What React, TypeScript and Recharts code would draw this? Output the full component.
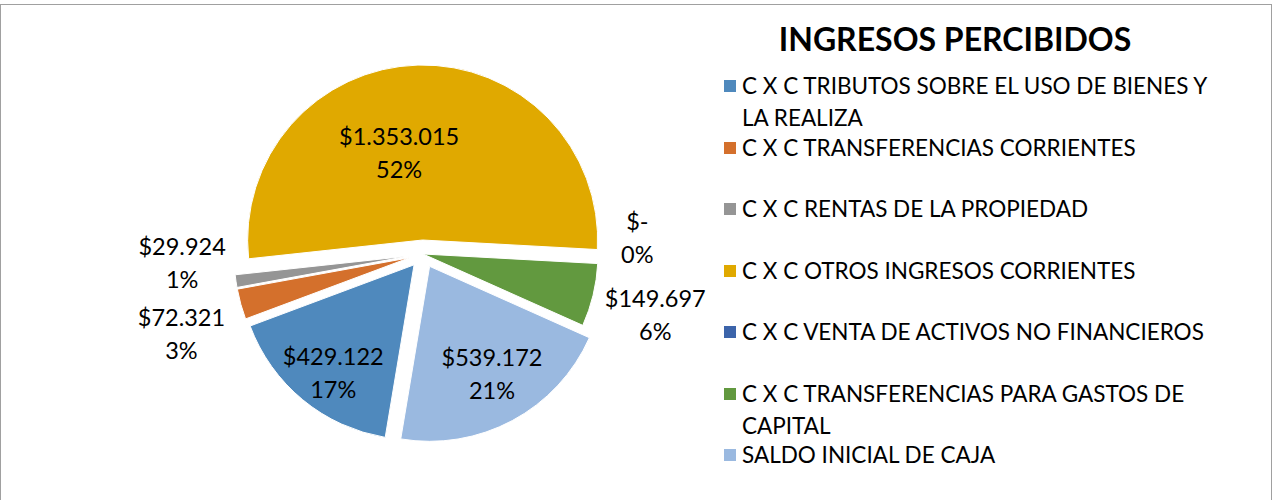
import React from 'react';
import { PieChart, Pie, Cell, Legend } from 'recharts';

// categories (legend order = clockwise slice order)
const categories = [
  'C X C TRIBUTOS SOBRE EL USO DE BIENES Y LA REALIZA',
  'C X C TRANSFERENCIAS CORRIENTES',
  'C X C RENTAS DE LA PROPIEDAD',
  'C X C OTROS INGRESOS CORRIENTES',
  'C X C VENTA DE ACTIVOS NO FINANCIEROS',
  'C X C TRANSFERENCIAS PARA GASTOS DE CAPITAL',
  'SALDO INICIAL DE CAJA',
];
const amounts = [429122, 72321, 29924, 1353015, 0, 149697, 539172];
const percentLabels = ['17%', '3%', '1%', '52%', '0%', '6%', '21%'];

const colors = ['#4F89BD', '#D4702C', '#959595', '#E0A900', '#3C64AA', '#62993F', '#9AB9E0'];
// how far each slice is pulled out of the pie (px)
const explode = [14, 14, 14, 14, 0, 0, 14];
// label placement: distance from centre and angle tweak (deg, clockwise)
const labelRadius = [148, 254, 241, 105, 215, 240, 138];
const labelTurn = [-2.2, -2.6, 6.4, -11.6, -7.6, 1, -1.8];

const FONT = 'Lato, "Open Sans", sans-serif';
const CX = 423;
const CY = 254;
const R = 175;
const FIRST_ANGLE = 189.5; // clockwise from 12 o'clock

const rows = categories.map((name, i) => ({ name, value: amounts[i] }));
const total = amounts.reduce((a, b) => a + b, 0);

const rad = (d: number) => (d * Math.PI) / 180;

// mid angle of each slice, clockwise from top
const midAngles = amounts.map((v, i) => {
  const before = amounts.slice(0, i).reduce((a, b) => a + b, 0);
  return FIRST_ANGLE + (360 * (before + v / 2)) / total;
});

const fmtMoney = (v: number) => (v === 0 ? '$-' : '$' + v.toLocaleString('de-DE'));

const wrap = (text: string, max: number) => {
  const lines: string[] = [];
  let cur = '';
  text.split(' ').forEach((w) => {
    const next = cur ? cur + ' ' + w : w;
    if (next.length > max && cur) {
      lines.push(cur);
      cur = w;
    } else cur = next;
  });
  if (cur) lines.push(cur);
  return lines;
};

const renderLabel = (props: any) => {
  const { cx, cy, midAngle, index, value } = props;
  const a = rad(90 - midAngle + labelTurn[index]);
  const x = cx + labelRadius[index] * Math.sin(a);
  const y = cy - labelRadius[index] * Math.cos(a);
  return (
    <text x={x} y={y} textAnchor="middle" fontFamily={FONT} fontSize={23.5} fill="#000">
      <tspan x={x} y={y - 16} dominantBaseline="central">{fmtMoney(value)}</tspan>
      <tspan x={x} y={y + 17} dominantBaseline="central">{percentLabels[index]}</tspan>
    </text>
  );
};

// legend built from the category list so it keeps the original order
const LegendList = () => (
  <div style={{ fontFamily: FONT, fontSize: 22.5, color: '#000' }}>
    {categories.map((name, i) => (
      <div key={i} style={{ position: 'relative', height: 61.5, paddingLeft: 22 }}>
        <div
          style={{
            position: 'absolute',
            left: 4,
            top: 10,
            width: 12,
            height: 12,
            background: colors[i],
          }}
        />
        {wrap(name, 39).map((line, j) => (
          <div key={j} style={{ lineHeight: '32px', whiteSpace: 'nowrap' }}>
            {line}
          </div>
        ))}
      </div>
    ))}
  </div>
);

export default function App() {
  return (
    <div style={{ position: 'absolute', left: 0, top: 0, width: 1279, height: 500, overflow: 'hidden', background: '#fff' }}>
      <div
        style={{
          position: 'absolute',
          left: 0,
          top: 4,
          width: 1272,
          height: 520,
          border: '1px solid #A0A0A0',
          boxSizing: 'border-box',
        }}
      />
      <div
        style={{
          position: 'absolute',
          left: 700,
          top: 15,
          width: 510,
          textAlign: 'center',
          fontFamily: FONT,
          fontWeight: 700,
          fontSize: 32,
          lineHeight: '48px',
          color: '#000',
        }}
      >
        INGRESOS PERCIBIDOS
      </div>
      <PieChart width={1279} height={500} margin={{ top: 0, right: 0, bottom: 0, left: 0 }}>
        <Pie
          data={rows}
          dataKey="value"
          nameKey="name"
          cx={CX}
          cy={CY}
          outerRadius={R}
          startAngle={90 - FIRST_ANGLE}
          endAngle={90 - FIRST_ANGLE - 360}
          stroke="#fff"
          strokeWidth={1}
          label={renderLabel}
          labelLine={false}
          isAnimationActive={false}
        >
          {rows.map((_, i) => (
            <Cell
              key={i}
              fill={colors[i]}
              transform={`translate(${explode[i] * Math.sin(rad(midAngles[i]))}, ${-explode[i] * Math.cos(rad(midAngles[i]))})`}
            />
          ))}
        </Pie>
        <Legend
          layout="vertical"
          align="right"
          verticalAlign="top"
          content={<LegendList />}
          wrapperStyle={{ left: 720, top: 70, width: 550 }}
        />
      </PieChart>
    </div>
  );
}
